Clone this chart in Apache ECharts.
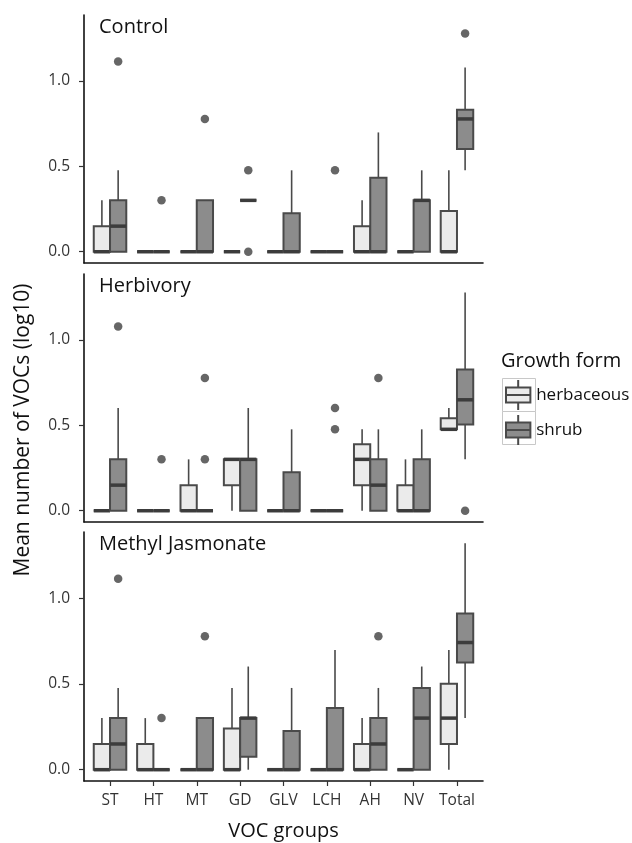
<!DOCTYPE html>
<html>
<head>
<meta charset="utf-8">
<script src="https://cdn.jsdelivr.net/npm/echarts@6/dist/echarts.min.js"></script>
<style>
html,body{margin:0;padding:0;background:#fff;}
#chart{width:632px;height:843px;}
</style>
</head>
<body>
<div id="chart"></div>
<script>
// ---------- DATA ----------
const categories = ['ST', 'HT', 'MT', 'GD', 'GLV', 'LCH', 'AH', 'NV', 'Total'];
const yTickValues = [0, 0.5, 1.0];
const panelNames = ['Control', 'Herbivory', 'Methyl Jasmonate'];
const seriesNames = ['herbaceous', 'shrub'];

// box stats per category: [min, Q1, median, Q3, max]
const controlHerb = [
  [0, 0, 0, 0.15, 0.301], [0, 0, 0, 0, 0], [0, 0, 0, 0, 0], [0, 0, 0, 0, 0], [0, 0, 0, 0, 0],
  [0, 0, 0, 0, 0], [0, 0, 0, 0.15, 0.301], [0, 0, 0, 0, 0], [0, 0, 0, 0.238, 0.477]
];
const controlShrub = [
  [0, 0, 0.15, 0.301, 0.477], [0, 0, 0, 0, 0], [0, 0, 0, 0.301, 0.301], [0.301, 0.301, 0.301, 0.301, 0.301],
  [0, 0, 0, 0.226, 0.477], [0, 0, 0, 0, 0], [0, 0, 0, 0.433, 0.699], [0, 0, 0.301, 0.301, 0.477],
  [0.477, 0.602, 0.778, 0.832, 1.079]
];
const controlHerbOutliers = [];
const controlShrubOutliers = [
  ['ST', 1.114], ['HT', 0.301], ['MT', 0.778], ['GD', 0.477], ['GD', 0], ['LCH', 0.477], ['Total', 1.279]
];

const herbivoryHerb = [
  [0, 0, 0, 0, 0], [0, 0, 0, 0, 0], [0, 0, 0, 0.15, 0.301], [0, 0.15, 0.301, 0.301, 0.301], [0, 0, 0, 0, 0],
  [0, 0, 0, 0, 0], [0, 0.15, 0.301, 0.389, 0.477], [0, 0, 0, 0.15, 0.301], [0.477, 0.477, 0.477, 0.542, 0.602]
];
const herbivoryShrub = [
  [0, 0, 0.15, 0.301, 0.602], [0, 0, 0, 0, 0], [0, 0, 0, 0, 0], [0, 0, 0.301, 0.301, 0.602],
  [0, 0, 0, 0.226, 0.477], [0, 0, 0, 0, 0], [0, 0, 0.15, 0.301, 0.477], [0, 0, 0, 0.301, 0.477],
  [0.301, 0.505, 0.65, 0.828, 1.279]
];
const herbivoryHerbOutliers = [];
const herbivoryShrubOutliers = [
  ['ST', 1.079], ['HT', 0.301], ['MT', 0.778], ['MT', 0.301], ['LCH', 0.602], ['LCH', 0.477], ['AH', 0.778], ['Total', 0]
];

const mejaHerb = [
  [0, 0, 0, 0.15, 0.301], [0, 0, 0, 0.15, 0.301], [0, 0, 0, 0, 0], [0, 0, 0, 0.24, 0.477], [0, 0, 0, 0, 0],
  [0, 0, 0, 0, 0], [0, 0, 0, 0.15, 0.301], [0, 0, 0, 0, 0], [0, 0.15, 0.301, 0.501, 0.699]
];
const mejaShrub = [
  [0, 0, 0.15, 0.301, 0.477], [0, 0, 0, 0, 0], [0, 0, 0, 0.301, 0.301], [0, 0.076, 0.301, 0.301, 0.602],
  [0, 0, 0, 0.226, 0.477], [0, 0, 0, 0.36, 0.699], [0, 0, 0.15, 0.301, 0.477], [0, 0, 0.301, 0.477, 0.602],
  [0.301, 0.626, 0.742, 0.912, 1.321]
];
const mejaHerbOutliers = [];
const mejaShrubOutliers = [
  ['ST', 1.114], ['HT', 0.301], ['MT', 0.778], ['AH', 0.778]
];

// ---------- STYLE / LAYOUT ----------
const FONT = 'Open Sans';
const HERB_FILL = '#ebebeb';
const SHRUB_FILL = '#8c8c8c';
const OUTLINE = '#4a4a4a';
const MEDIAN = '#3c3c3c';
const BOX_W = 0.375;      // box width in category units
const DODGE = 0.1875;     // offset of each box from category centre
const gridLeft = 84, gridWidth = 399;
const panelTops = [15, 274, 532];
const panelHeights = [248, 248, 249];

const panels = [
  { herb: controlHerb, shrub: controlShrub, herbOut: controlHerbOutliers, shrubOut: controlShrubOutliers },
  { herb: herbivoryHerb, shrub: herbivoryShrub, herbOut: herbivoryHerbOutliers, shrubOut: herbivoryShrubOutliers },
  { herb: mejaHerb, shrub: mejaShrub, herbOut: mejaHerbOutliers, shrubOut: mejaShrubOutliers }
];

function makeRender(offset) {
  return function (params, api) {
    const x = api.value(0) + offset;
    const mn = api.value(1), q1 = api.value(2), md = api.value(3), q3 = api.value(4), mx = api.value(5);
    const w = api.size([BOX_W, 0])[0];
    const pMin = api.coord([x, mn]);
    const pQ1 = api.coord([x, q1]);
    const pMd = api.coord([x, md]);
    const pQ3 = api.coord([x, q3]);
    const pMx = api.coord([x, mx]);
    const left = pQ1[0] - w / 2;
    const children = [];
    if (mx > q3) {
      children.push({ type: 'line', shape: { x1: pQ3[0], y1: pQ3[1], x2: pMx[0], y2: pMx[1] },
        style: { stroke: OUTLINE, lineWidth: 1.6 } });
    }
    if (mn < q1) {
      children.push({ type: 'line', shape: { x1: pQ1[0], y1: pQ1[1], x2: pMin[0], y2: pMin[1] },
        style: { stroke: OUTLINE, lineWidth: 1.6 } });
    }
    children.push({ type: 'rect', shape: { x: left, y: pQ3[1], width: w, height: pQ1[1] - pQ3[1] },
      style: { fill: api.visual('color'), stroke: OUTLINE, lineWidth: 2 } });
    children.push({ type: 'line', shape: { x1: left, y1: pMd[1], x2: left + w, y2: pMd[1] },
      style: { stroke: MEDIAN, lineWidth: 3.5 } });
    return { type: 'group', children: children };
  };
}

const grids = [], xAxes = [], yAxes = [], series = [], titles = [];
panels.forEach(function (p, i) {
  const isBottom = i === panels.length - 1;
  grids.push({ left: gridLeft, width: gridWidth, top: panelTops[i], height: panelHeights[i] });
  xAxes.push({
    type: 'value', gridIndex: i, min: 0.4, max: 9.6,
    splitLine: { show: false },
    axisLine: { show: true, onZero: false, lineStyle: { color: '#111', width: 1.6 } },
    axisTick: { show: isBottom, length: 5, lineStyle: { color: '#333', width: 1.2 },
      customValues: categories.map(function (c, k) { return k + 1; }) },
    axisLabel: { show: isBottom, margin: 12, fontSize: 15.5, color: '#333', fontFamily: FONT,
      customValues: categories.map(function (c, k) { return k + 1; }),
      formatter: function (v) { return categories[Math.round(v) - 1]; } },
    name: isBottom ? 'VOC groups' : '',
    nameLocation: 'middle', nameGap: 40,
    nameTextStyle: { fontSize: 20, color: '#111', fontFamily: FONT }
  });
  yAxes.push({
    type: 'value', gridIndex: i, min: -0.066, max: 1.387,
    splitLine: { show: false },
    axisLine: { show: true, onZero: false, lineStyle: { color: '#111', width: 1.6 } },
    axisTick: { show: true, length: 5, lineStyle: { color: '#333', width: 1.2 }, customValues: yTickValues },
    axisLabel: { margin: 14, fontSize: 15.5, color: '#333', fontFamily: FONT, customValues: yTickValues,
      formatter: function (v) { return v.toFixed(1); } }
  });
  titles.push({ text: panelNames[i], left: 99, top: panelTops[i] + 2, padding: 0,
    textStyle: { fontSize: 20, fontWeight: 'normal', color: '#111', fontFamily: FONT } });

  [[p.herb, -DODGE, HERB_FILL, seriesNames[0]], [p.shrub, DODGE, SHRUB_FILL, seriesNames[1]]].forEach(function (s) {
    series.push({
      type: 'custom', name: s[3], xAxisIndex: i, yAxisIndex: i,
      itemStyle: { color: s[2] },
      renderItem: makeRender(s[1]),
      encode: { x: 0, y: [1, 2, 3, 4, 5] },
      data: s[0].map(function (v, k) { return [k + 1].concat(v); }),
      silent: true, z: 2
    });
  });
  const outs = p.herbOut.map(function (o) { return [categories.indexOf(o[0]) + 1 - DODGE, o[1]]; })
    .concat(p.shrubOut.map(function (o) { return [categories.indexOf(o[0]) + 1 + DODGE, o[1]]; }));
  series.push({
    type: 'scatter', name: 'outliers', xAxisIndex: i, yAxisIndex: i,
    symbol: 'circle', symbolSize: 8.5, itemStyle: { color: '#404040' },
    data: outs, silent: true, z: 3
  });
});

titles.push({ text: 'Growth form', left: 501, top: 351, padding: 0,
  textStyle: { fontSize: 20, fontWeight: 'normal', color: '#111', fontFamily: FONT } });

const ICON = 'path://M13,0L13,8M0,8L26,8L26,24L0,24ZM0,16L26,16M13,24L13,32';

const option = {
  animation: false,
  backgroundColor: '#fff',
  title: titles,
  grid: grids,
  xAxis: xAxes,
  yAxis: yAxes,
  series: series,
  legend: {
    orient: 'vertical', left: 505, top: 379, padding: 0,
    itemWidth: 26, itemHeight: 30, itemGap: 3,
    selectedMode: false,
    textStyle: { fontSize: 17, color: '#111', fontFamily: FONT },
    data: [
      { name: seriesNames[0], icon: ICON, itemStyle: { color: HERB_FILL, borderColor: OUTLINE, borderWidth: 2 } },
      { name: seriesNames[1], icon: ICON, itemStyle: { color: SHRUB_FILL, borderColor: OUTLINE, borderWidth: 2 } }
    ]
  },
  graphic: [
    { type: 'rect', left: 502, top: 378, z: 1, shape: { width: 33, height: 33 },
      style: { fill: '#fff', stroke: '#c8c8c8', lineWidth: 1 } },
    { type: 'rect', left: 502, top: 411, z: 1, shape: { width: 33, height: 33 },
      style: { fill: '#fff', stroke: '#c8c8c8', lineWidth: 1 } },
    { type: 'text', x: 23, y: 430, rotation: Math.PI / 2, z: 5,
      style: { text: 'Mean number of VOCs (log10)', fontSize: 21, fontFamily: FONT, fill: '#111',
        textAlign: 'center', textVerticalAlign: 'middle' } }
  ]
};

const chart = echarts.init(document.getElementById('chart'), null, { renderer: 'canvas' });
chart.setOption(option);
</script>
</body>
</html>
